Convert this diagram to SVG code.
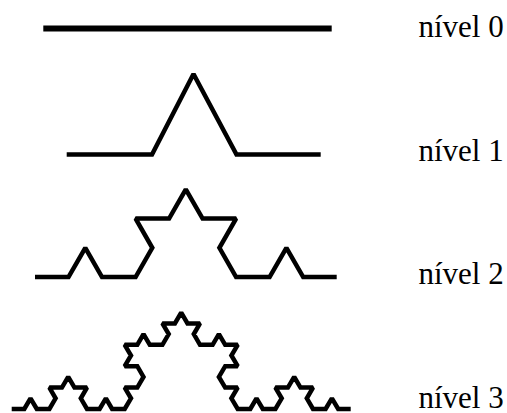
<svg xmlns="http://www.w3.org/2000/svg" width="507" height="413" viewBox="0 0 507 413">
  <style>
    .curve { fill: none; stroke: #000; stroke-width: 4.5; stroke-linejoin: miter; stroke-miterlimit: 1.5; stroke-linecap: butt; }
    .lbl { font-family: "Liberation Serif", "Times New Roman", serif; font-size: 31px; fill: #000; }
  </style>
  <rect width="507" height="413" fill="#fff"/>
  <g id="nivel0">
    <line x1="43.3" y1="28.5" x2="331.7" y2="28.5" stroke="#000" stroke-width="6"/>
    <text class="lbl" x="418.5" y="36.7">nível 0</text>
  </g>
  <g id="nivel1">
    <polyline class="curve" points="66.7,154.5 152,154.5 193.5,74 236.5,154.5 320.7,154.5"/>
    <text class="lbl" x="418.5" y="160.8">nível 1</text>
  </g>
  <g id="nivel2">
    <polyline class="curve" points="35,277 68.5,277 85.3,247.8 102,277 135.6,277 152.3,247.8 135.6,218.6 169.1,218.6 185.8,189.4 202.6,218.6 236.1,218.6 219.4,247.8 236.1,277 269.6,277 286.4,247.8 303.2,277 336.7,277"/>
    <text class="lbl" x="418.5" y="284.4">nível 2</text>
  </g>
  <g id="nivel3">
    <polyline class="curve" points="11.7,409 24.3,409 30.5,398.3 36.8,409 49.4,409 55.6,398.3 49.4,387.6 61.9,387.6 68.2,376.9 74.5,387.6 87,387.6 80.8,398.3 87,409 99.6,409 105.9,398.3 112.1,409 124.7,409 131,398.3 124.7,387.6 137.3,387.6 143.5,376.9 137.3,366.2 124.7,366.2 131,355.5 124.7,344.8 137.3,344.8 143.5,334.1 149.8,344.8 162.4,344.8 168.7,334.1 162.4,323.4 174.9,323.4 181.2,312.7 187.5,323.4 200,323.4 193.8,334.1 200,344.8 212.6,344.8 218.9,334.1 225.2,344.8 237.7,344.8 231.4,355.5 237.7,366.2 225.2,366.2 218.9,376.9 225.2,387.6 237.7,387.6 231.4,398.3 237.7,409 250.3,409 256.5,398.3 262.8,409 275.4,409 281.7,398.3 275.4,387.6 287.9,387.6 294.2,376.9 300.5,387.6 313,387.6 306.8,398.3 313,409 325.6,409 331.9,398.3 338.2,409 350.7,409"/>
    <text class="lbl" x="418.5" y="408.3">nível 3</text>
  </g>
</svg>
